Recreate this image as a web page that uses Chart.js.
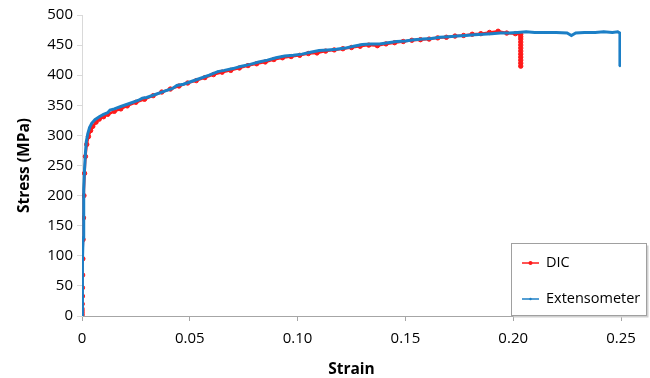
<!DOCTYPE html>
<html>
<head>
<meta charset="utf-8">
<script src="https://cdn.jsdelivr.net/npm/chart.js@4"></script>
<style>
  body { margin: 0; background: #fff; }
</style>
</head>
<body>
<canvas id="myChart" width="650" height="378"></canvas>
<script>
'use strict';

// Data (strain, stress in MPa)

var dicStrain = [0, 0, 0, 0, 0, 0.0001, 0.0002, 0.0002, 0.0003, 0.0004, 0.0005, 0.0007, 0.0009, 0.0012, 0.0016,
  0.0022, 0.0030, 0.0040, 0.0050, 0.0065, 0.008, 0.010, 0.012, 0.015, 0.018, 0.021, 0.025, 0.029, 0.033,
  0.037, 0.041, 0.045, 0.049, 0.053, 0.057, 0.061, 0.065, 0.069, 0.073, 0.077, 0.081, 0.085, 0.089, 0.093,
  0.097, 0.101, 0.105, 0.109, 0.113, 0.117, 0.121, 0.125, 0.129, 0.133, 0.137, 0.141, 0.145, 0.149, 0.153,
  0.157, 0.161, 0.165, 0.169, 0.173, 0.177, 0.181, 0.185, 0.189, 0.193, 0.197, 0.201, 0.2035, 0.2035,
  0.2035, 0.2035, 0.2035, 0.2035, 0.2035, 0.2035, 0.2035, 0.2035, 0.2035, 0.2035];
var dicStress = [0, 3, 6, 9, 12, 20, 33, 47, 68, 95, 127, 163, 200, 237, 265,
  285, 298, 308, 315, 322, 327, 331, 335, 340, 344, 349, 355, 360, 366,
  372, 377, 382, 387, 391, 396, 401, 405, 408, 412, 416, 419, 422, 426, 429,
  431, 433, 436, 437, 440, 442, 444, 446, 448, 450, 449, 452, 454, 456, 458,
  459, 460, 462, 463, 465, 466, 468, 469, 471, 473, 470, 469, 468, 464,
  460, 455, 450, 445, 440, 435, 430, 425, 420, 415];

var extStrain = [0, 0.0001, 0.0002, 0.0003, 0.0005, 0.0007, 0.0009, 0.0012, 0.0016, 0.002, 0.0027, 0.0035,
  0.0045, 0.006, 0.008, 0.010, 0.012, 0.013, 0.015, 0.018, 0.022, 0.026, 0.028, 0.030, 0.034, 0.038, 0.042,
  0.044, 0.047, 0.051, 0.055, 0.059, 0.063, 0.066, 0.070, 0.074, 0.078, 0.082, 0.086, 0.090, 0.094, 0.098,
  0.102, 0.106, 0.110, 0.114, 0.118, 0.122, 0.126, 0.130, 0.134, 0.138, 0.142, 0.146, 0.150, 0.154, 0.158,
  0.162, 0.166, 0.170, 0.174, 0.178, 0.182, 0.186, 0.190, 0.194, 0.198, 0.202, 0.206, 0.210, 0.215, 0.220,
  0.225, 0.227, 0.229, 0.233, 0.238, 0.242, 0.246, 0.2485, 0.2495, 0.2495, 0.2495];
var extStress = [0, 20, 50, 90, 130, 170, 210, 245, 272, 290, 303, 313,
  320, 326, 331, 335, 338, 342, 344, 348, 353, 358, 362, 363, 368, 373, 378,
  383, 385, 390, 395, 400, 406, 408, 411, 415, 418, 422, 425, 429, 432, 433,
  435, 438, 441, 442, 443, 445, 448, 451, 452, 452, 454, 456, 457, 459, 460,
  461, 463, 464, 465, 466, 467, 468, 469, 470, 470, 471, 472, 471, 471, 471,
  470, 466, 470, 471, 471, 472, 471, 472, 470, 440, 415];

var seriesNames = ['DIC', 'Extensometer'];
var seriesColors = ['#ff1a1a', '#1c7fc6'];

function toPoints(xs, ys) {
  return xs.map(function (x, i) { return { x: x, y: ys[i] }; });
}

// Legend box drawn inside the plot, like the original
var boxLegend = {
  id: 'boxLegend',
  afterDraw: function (chart) {
    var ctx = chart.ctx;
    var left = 511.5, top = 243.5, w = 135, h = 72;
    ctx.save();
    ctx.fillStyle = '#d0d0d0';
    ctx.fillRect(left + 2, top + 2, w, h);
    ctx.fillStyle = '#fff';
    ctx.fillRect(left, top, w, h);
    ctx.strokeStyle = '#a0a0a0';
    ctx.lineWidth = 1;
    ctx.strokeRect(left, top, w, h);

    var rows = [263, 299];
    ctx.font = '14.5px "Open Sans"';
    ctx.textBaseline = 'middle';
    for (var i = 0; i < seriesNames.length; i++) {
      var y = rows[i];
      ctx.strokeStyle = seriesColors[i];
      ctx.lineWidth = 1.5;
      ctx.beginPath();
      ctx.moveTo(522, y);
      ctx.lineTo(539, y);
      ctx.stroke();
      ctx.fillStyle = seriesColors[i];
      ctx.beginPath();
      ctx.arc(530.5, y, i === 0 ? 2 : 1.2, 0, Math.PI * 2);
      ctx.fill();
      ctx.fillStyle = '#000';
      ctx.fillText(seriesNames[i], 546, y);
    }
    ctx.restore();
  }
};

var ctx = document.getElementById('myChart').getContext('2d');

new Chart(ctx, {
  type: 'scatter',
  data: {
    datasets: [
      {
        label: seriesNames[0],
        data: toPoints(dicStrain, dicStress),
        showLine: true,
        borderColor: seriesColors[0],
        backgroundColor: seriesColors[0],
        borderWidth: 2.5,
        pointRadius: 2.2,
        pointBorderWidth: 1,
        order: 2
      },
      {
        label: seriesNames[1],
        data: toPoints(extStrain, extStress),
        showLine: true,
        borderColor: seriesColors[1],
        backgroundColor: seriesColors[1],
        borderWidth: 3,
        pointRadius: 1,
        pointBorderWidth: 0,
        order: 1
      }
    ]
  },
  options: {
    responsive: false,
    animation: false,
    layout: { padding: { left: 0, right: 29, top: 15, bottom: 0 } },
    plugins: {
      legend: { display: false },
      tooltip: { enabled: false }
    },
    scales: {
      x: {
        type: 'linear',
        min: 0,
        max: 0.25,
        afterFit: function (scale) { scale.height = 62; },
        ticks: {
          stepSize: 0.05,
          padding: 9,
          color: '#000',
          font: { family: 'Open Sans', size: 15 },
          maxRotation: 0,
          callback: function (v) { return v === 0 ? '0' : v.toFixed(2); }
        },
        grid: { drawOnChartArea: false, drawTicks: true, tickLength: 5, color: '#a6a6a6' },
        border: { display: true, color: '#a6a6a6' },
        title: {
          display: true,
          text: 'Strain',
          color: '#000',
          font: { family: 'Open Sans', size: 15.5, weight: 'bold' },
          padding: { top: 0, bottom: -1 }
        }
      },
      y: {
        min: 0,
        max: 500,
        afterFit: function (scale) { scale.width = 82; },
        ticks: {
          stepSize: 50,
          padding: 4,
          color: '#000',
          font: { family: 'Open Sans', size: 15 }
        },
        grid: { drawOnChartArea: false, drawTicks: true, tickLength: 5, color: '#d9d9d9' },
        border: { display: true, color: '#d9d9d9' },
        title: {
          display: true,
          text: 'Stress (MPa)',
          color: '#000',
          font: { family: 'Open Sans', size: 15.5, weight: 'bold' },
          padding: { top: 15, bottom: 0 }
        }
      }
    }
  },
  plugins: [boxLegend]
});
</script>
</body>
</html>
